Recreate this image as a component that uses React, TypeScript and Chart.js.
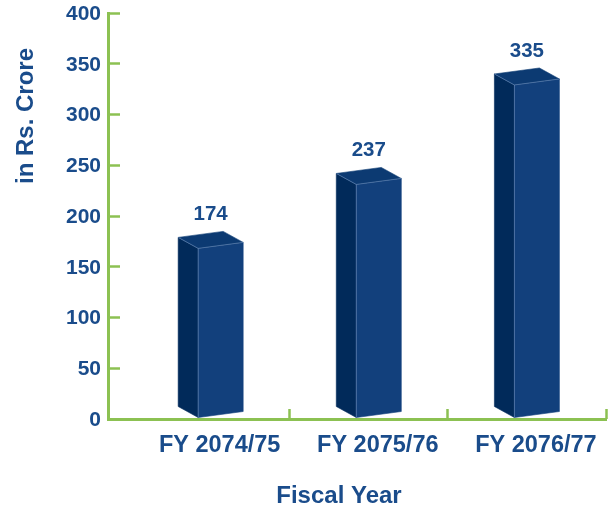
import React, { useEffect, useRef } from "react";
import { Chart, registerables } from "chart.js";

Chart.register(...registerables);

const categories = ["FY 2074/75", "FY 2075/76", "FY 2076/77"];
const positions = [0, 1, 2];
const values = [174, 237, 335];
const tickBoundaries = [0.437, 1.437, 2.437];
const xTitle = "Fiscal Year";
const yTitle = "in Rs. Crore";

const TEXT = "#1a4c8b";
const GREEN = "#8cc152";
const FONT = "'Liberation Sans', Arial, sans-serif";

const noPadding = (s: any) => {
  s.paddingLeft = 0;
  s.paddingRight = 0;
  s.paddingTop = 0;
  s.paddingBottom = 0;
};

const bar3d = {
  id: "bar3d",
  afterDatasetsDraw(chart: any) {
    const ctx = chart.ctx;
    const meta = chart.getDatasetMeta(0);
    const poly = (pts: number[][], fill: string, stroke: string) => {
      ctx.beginPath();
      pts.forEach((p, i) => (i ? ctx.lineTo(p[0], p[1]) : ctx.moveTo(p[0], p[1])));
      ctx.closePath();
      ctx.fillStyle = fill;
      ctx.fill();
      ctx.strokeStyle = stroke;
      ctx.lineWidth = 0.6;
      ctx.stroke();
    };
    ctx.save();
    meta.data.forEach((el: any, i: number) => {
      const { x, y, base, width } = el.getProps(["x", "y", "base", "width"], true);
      const h = width / 2;
      const fl = x - h, fr = x + h, bl = x - h - 20;
      // side face
      poly([[bl, y - 5], [fl, y + 6], [fl, base - 1], [bl, base - 12]], "#012a5a", "#012a5a");
      // front face
      poly([[fl, y + 6], [fr, y], [fr, base - 7], [fl, base - 1]], "#12407c", "#12407c");
      // top face
      poly([[bl, y - 5], [fr - 20, y - 11], [fr, y], [fl, y + 6]], "#0c3a72", "#0c3a72");
      // light edges
      ctx.strokeStyle = "rgba(140,170,210,0.65)";
      ctx.lineWidth = 0.7;
      ctx.beginPath();
      ctx.moveTo(bl, y - 5);
      ctx.lineTo(fl, y + 6);
      ctx.lineTo(fr, y);
      ctx.moveTo(fl, y + 6);
      ctx.lineTo(fl, base - 1);
      ctx.stroke();
      // value label
      ctx.fillStyle = TEXT;
      ctx.font = `bold 20.5px ${FONT}`;
      ctx.textAlign = "center";
      ctx.textBaseline = "middle";
      ctx.fillText(String(values[i]), x - 10, y - 28);
    });
    // axis titles
    ctx.fillStyle = TEXT;
    ctx.font = `bold 24px ${FONT}`;
    ctx.textAlign = "center";
    ctx.textBaseline = "middle";
    ctx.fillText(xTitle, 339, 496);
    ctx.translate(26, 116);
    ctx.rotate(-Math.PI / 2);
    ctx.fillText(yTitle, 0, 0);
    ctx.restore();
  },
};

export default function App() {
  const ref = useRef<HTMLCanvasElement>(null);
  useEffect(() => {
    const xMin = -0.7126;
    const xMax = 2.437;
    const chart = new Chart(ref.current as HTMLCanvasElement, {
      type: "bar",
      data: {
        datasets: [
          {
            data: positions.map((p, i) => ({ x: p, y: values[i] })),
            backgroundColor: "rgba(0,0,0,0)",
            borderWidth: 0,
            barThickness: 45,
          } as any,
        ],
      },
      plugins: [bar3d as any],
      options: {
        animation: false,
        responsive: false,
        layout: { padding: { top: 13, right: 10, left: 0, bottom: 0 } },
        plugins: { legend: { display: false }, tooltip: { enabled: false } },
        scales: {
          x: {
            type: "linear",
            position: "bottom",
            weight: 1,
            offset: false,
            min: xMin,
            max: xMax,
            afterBuildTicks: (s: any) => {
              s.ticks = positions.map((value) => ({ value }));
            },
            afterFit: (s: any) => {
              s.height = 92;
              noPadding(s);
            },
            ticks: {
              autoSkip: false,
              maxRotation: 0,
              padding: 4,
              labelOffset: -1,
              color: TEXT,
              font: { family: FONT, size: 23.5, weight: "bold" },
              callback: (v: any) => categories[Number(v)],
            },
            grid: { display: false, offset: false },
            border: { display: true, color: GREEN, width: 3 },
          },
          xBoundary: {
            type: "linear",
            position: "bottom",
            weight: 0,
            offset: false,
            min: xMin,
            max: xMax,
            afterBuildTicks: (s: any) => {
              s.ticks = tickBoundaries.map((value) => ({ value }));
            },
            afterFit: (s: any) => {
              s.height = 0;
              noPadding(s);
            },
            ticks: { display: false },
            grid: {
              offset: false,
              drawOnChartArea: false,
              drawTicks: true,
              tickLength: -10,
              tickColor: GREEN,
              tickWidth: 2.5,
            },
            border: { display: false },
          },
          y: {
            type: "linear",
            position: "left",
            min: 0,
            max: 400,
            afterFit: (s: any) => {
              s.width = 108;
              noPadding(s);
            },
            ticks: {
              stepSize: 50,
              padding: 19,
              labelOffset: 1,
              color: TEXT,
              font: { family: FONT, size: 21, weight: "bold" },
            },
            grid: {
              drawOnChartArea: false,
              drawTicks: true,
              tickLength: -12,
              tickColor: GREEN,
              tickWidth: 2.5,
            },
            border: { display: true, color: GREEN, width: 3 },
          },
        },
      } as any,
    });
    return () => chart.destroy();
  }, []);
  return (
    <canvas
      ref={ref}
      width={616}
      height={511}
      style={{ position: "fixed", left: 0, top: 0, width: 616, height: 511 }}
    />
  );
}
